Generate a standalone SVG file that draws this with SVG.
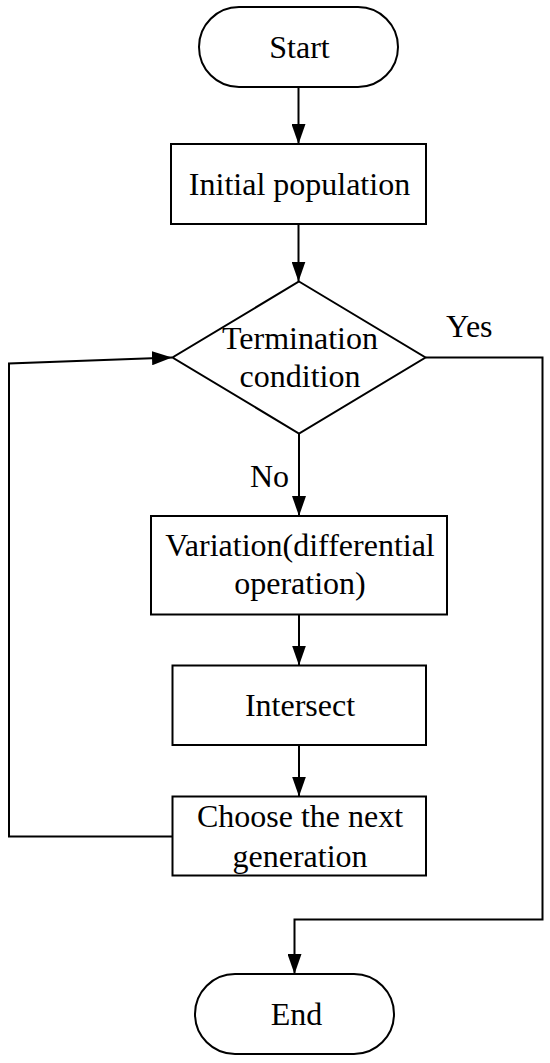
<svg xmlns="http://www.w3.org/2000/svg" width="550" height="1063" viewBox="0 0 550 1063">
<style>
.shape{fill:#fff;stroke:#000;stroke-width:2}
.conn{fill:none;stroke:#000;stroke-width:2}
text{font-family:"Liberation Serif","Times New Roman",serif;font-size:32px;fill:#000}
.c{text-anchor:middle}
</style>
<defs>
<marker id="arr" markerUnits="userSpaceOnUse" markerWidth="20" markerHeight="14" refX="20" refY="7" orient="auto">
<path d="M0,0 L20,7 L0,14 z" fill="#000"/>
</marker>
</defs>
<rect width="550" height="1063" fill="#fff"/>
<g id="connectors">
<path class="conn" d="M298.5,87 L298.5,144" marker-end="url(#arr)"/>
<path class="conn" d="M298.5,224 L298.5,281.5" marker-end="url(#arr)"/>
<path class="conn" d="M299,433.5 L299,516" marker-end="url(#arr)"/>
<path class="conn" d="M299,614.5 L299,665.5" marker-end="url(#arr)"/>
<path class="conn" d="M299,745 L299,796.5" marker-end="url(#arr)"/>
<path class="conn" d="M172,836.5 L9,836.5 L9,363.5 L172,357.5" marker-end="url(#arr)"/>
<path class="conn" d="M425.5,357.5 L542.5,357.5 L542.5,919.5 L294.5,919.5 L294.5,974" marker-end="url(#arr)"/>
<text x="250" y="487">No</text>
<text x="446" y="337">Yes</text>
</g>
<g id="start">
<rect class="shape" x="199" y="7" width="199" height="80" rx="40" ry="40"/>
<text class="c" x="299.5" y="58">Start</text>
</g>
<g id="initial">
<rect class="shape" x="171" y="144" width="255" height="80"/>
<text class="c" x="299.5" y="195">Initial population</text>
</g>
<g id="termination">
<polygon class="shape" points="299,281.5 425.5,357.5 299,433.5 172.5,357.5"/>
<text class="c" x="300" y="349">Termination</text>
<text class="c" x="300" y="387">condition</text>
</g>
<g id="variation">
<rect class="shape" x="151" y="516" width="296" height="98.5"/>
<text class="c" x="300" y="556">Variation(differential</text>
<text class="c" x="300" y="594">operation)</text>
</g>
<g id="intersect">
<rect class="shape" x="172.5" y="665.5" width="253.5" height="79.5"/>
<text class="c" x="300" y="716">Intersect</text>
</g>
<g id="choose">
<rect class="shape" x="172.5" y="796.5" width="253.5" height="79"/>
<text class="c" x="300" y="827">Choose the next</text>
<text class="c" x="300" y="866.5">generation</text>
</g>
<g id="end">
<rect class="shape" x="195" y="974" width="199" height="80" rx="40" ry="40"/>
<text class="c" x="296.5" y="1025">End</text>
</g>
</svg>
